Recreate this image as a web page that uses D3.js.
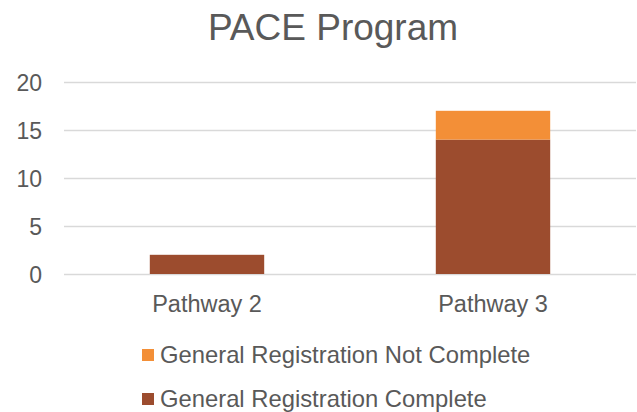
<!DOCTYPE html>
<html>
<head>
<meta charset="utf-8">
<script src="https://cdn.jsdelivr.net/npm/d3@7"></script>
<style>
  body { margin: 0; background: #fff; }
  svg text { font-family: "Liberation Sans", Arial, sans-serif; fill: #595959; }
</style>
</head>
<body>
<svg id="chart"></svg>
<script>
const categories = ["Pathway 2", "Pathway 3"];
const complete = [2, 14];
const notComplete = [0, 3];
const seriesNames = ["General Registration Complete", "General Registration Not Complete"];
const yTicks = [0, 5, 10, 15, 20];

const width = 637;
const height = 412;
const plotLeft = 64, plotRight = 636, plotTop = 82, plotBottom = 274;
const colors = ["#9C4C2E", "#F38F37"];

let svg = d3.select("#chart").attr("width", width).attr("height", height);

svg.append("text")
  .text("PACE Program")
  .attr("x", 333)
  .attr("y", 40)
  .attr("text-anchor", "middle")
  .style("font-size", "37px");

let xScale = d3.scaleBand().domain(categories).range([plotLeft, plotRight]).paddingInner(0).paddingOuter(0);
let yScale = d3.scaleLinear().domain([0, 20]).range([plotBottom, plotTop]);

// gridlines
let yAxis = d3.axisLeft(yScale).tickValues(yTicks).tickSize(-(plotRight - plotLeft)).tickPadding(22);
let gy = svg.append("g").attr("transform", "translate(" + plotLeft + ",0)").call(yAxis);
gy.select(".domain").remove();
gy.selectAll(".tick line").attr("stroke", "#d9d9d9").attr("stroke-width", 1.5);
gy.selectAll(".tick text").style("font-size", "23px").attr("dy", "0.36em");

// stacked bars
let rows = categories.map((c, i) => ({ cat: c, complete: complete[i], notComplete: notComplete[i] }));
let stack = d3.stack().keys(["complete", "notComplete"])(rows);
let barW = xScale.bandwidth() * 0.4;

svg.selectAll("g.series")
  .data(stack)
  .enter()
  .append("g")
  .attr("class", "series")
  .attr("fill", (d, i) => colors[i])
  .selectAll("rect")
  .data(d => d)
  .enter()
  .append("rect")
  .attr("x", d => xScale(d.data.cat) + (xScale.bandwidth() - barW) / 2)
  .attr("y", d => yScale(d[1]))
  .attr("width", barW)
  .attr("height", d => yScale(d[0]) - yScale(d[1]));

// x labels
let xAxis = d3.axisBottom(xScale).tickSize(0).tickPadding(21);
let gx = svg.append("g").attr("transform", "translate(0," + plotBottom + ")").call(xAxis);
gx.select(".domain").remove();
gx.selectAll(".tick text").style("font-size", "23.5px");

// legend (reversed order like the reference)
let legendItems = [1, 0];
let lg = svg.append("g").selectAll("g").data(legendItems).enter().append("g")
  .attr("transform", (d, i) => "translate(142," + (349 + i * 44) + ")");
lg.append("rect").attr("width", 12).attr("height", 12).attr("fill", d => colors[d]);
lg.append("text")
  .text(d => seriesNames[d])
  .attr("x", 18)
  .attr("y", 14)
  .style("font-size", "23.8px");
</script>
</body>
</html>
